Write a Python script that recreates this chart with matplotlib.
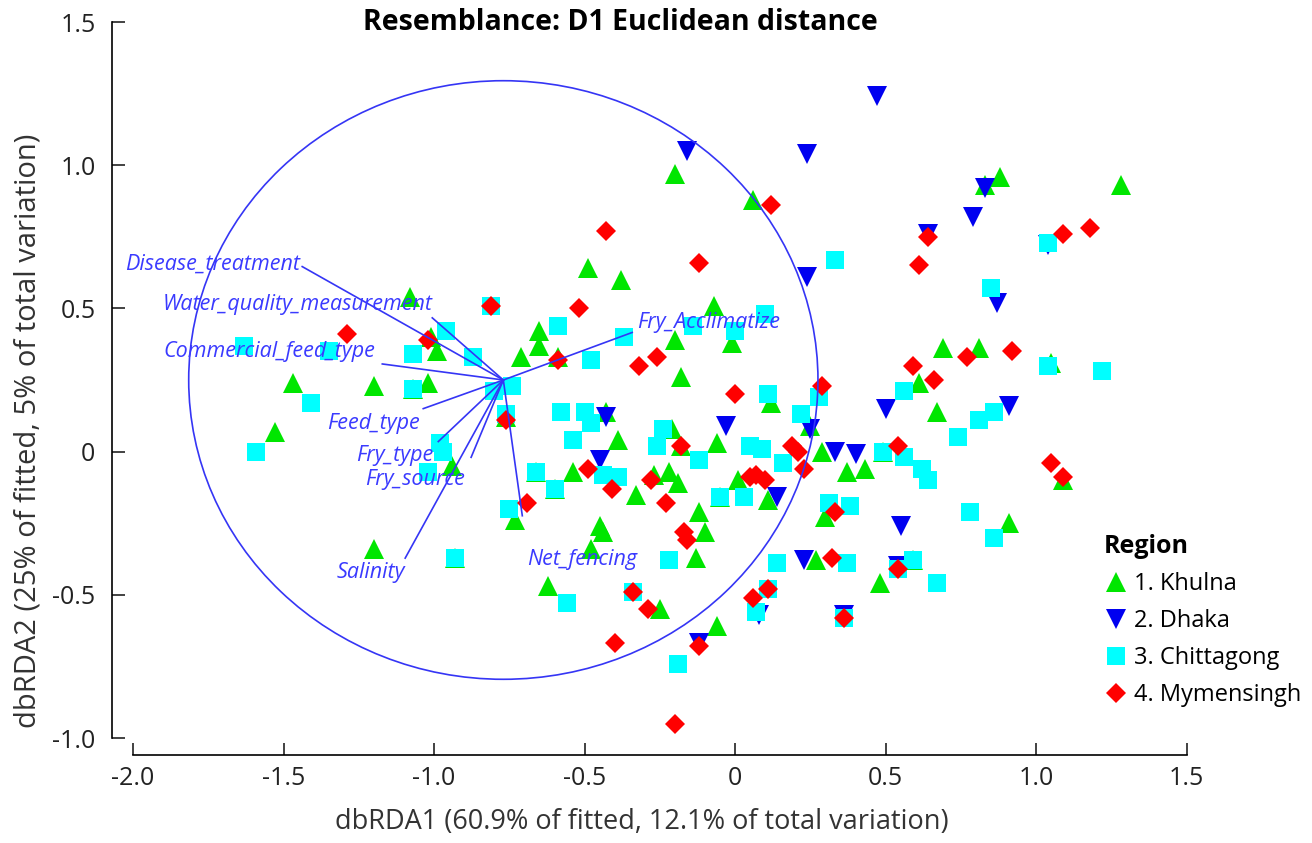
import numpy as np
import matplotlib
matplotlib.use("Agg")
import matplotlib.pyplot as plt
from matplotlib.patches import Ellipse

plt.rcParams['font.family'] = ['Open Sans', 'DejaVu Sans']
plt.rcParams['axes.unicode_minus'] = False

# dbRDA sample scores (dbRDA1, dbRDA2) per region
khulna = np.array([
    [1.28, 0.93], [0.83, 0.93], [0.88, 0.96], [-0.20, 0.97], [0.06, 0.88], [-0.49, 0.64],
    [-0.38, 0.60], [-1.08, 0.54], [-0.07, 0.51], [-0.65, 0.42], [-0.65, 0.37], [-0.20, 0.39],
    [-0.01, 0.38], [-1.01, 0.40], [-0.99, 0.35], [-1.47, 0.24], [-1.20, 0.23], [-1.07, 0.22],
    [-1.02, 0.24], [-1.53, 0.07], [-1.20, -0.34], [-0.71, 0.33], [-0.59, 0.33], [-0.18, 0.26],
    [-0.76, 0.12], [-0.43, 0.14], [-0.39, 0.04], [-0.54, -0.07], [-0.66, -0.07], [-0.60, -0.13],
    [-0.33, -0.15], [-0.73, -0.24], [-0.94, -0.05], [-0.21, 0.08], [-0.18, 0.02], [-0.06, 0.03],
    [-0.22, -0.07], [-0.27, -0.08], [-0.19, -0.11], [-0.05, -0.16], [0.01, -0.10], [-0.12, -0.21],
    [-0.45, -0.26], [-0.44, -0.28], [-0.10, -0.28], [-0.93, -0.37], [-0.48, -0.34], [-0.13, -0.37],
    [-0.62, -0.47], [-0.25, -0.55], [-0.06, -0.61], [0.27, -0.38], [0.48, -0.46], [0.59, -0.38],
    [0.69, 0.36], [0.81, 0.36], [0.61, 0.24], [0.67, 0.14], [0.12, 0.17], [0.25, 0.09],
    [0.11, -0.17], [0.29, 0.00], [0.37, -0.07], [0.43, -0.06], [0.49, 0.00], [0.30, -0.23],
    [0.91, -0.25], [1.09, -0.10], [1.05, 0.31],
])
dhaka = np.array([
    [0.47, 1.24], [-0.16, 1.05], [0.24, 1.04], [0.24, 0.61], [0.83, 0.92], [0.79, 0.82],
    [0.64, 0.76], [1.04, 0.72], [0.87, 0.52], [0.50, 0.15], [0.91, 0.16], [-0.43, 0.12],
    [-0.45, -0.03], [-0.03, 0.09], [0.25, 0.08], [0.33, 0.00], [0.40, -0.01], [0.14, -0.16],
    [0.55, -0.26], [0.23, -0.38], [0.54, -0.40], [0.36, -0.57], [-0.12, -0.67], [0.08, -0.57],
])
chittagong = np.array([
    [-1.63, 0.37], [-1.35, 0.35], [-1.07, 0.34], [-0.96, 0.42], [-0.87, 0.33], [-0.81, 0.51],
    [-0.59, 0.44], [-0.37, 0.40], [-0.14, 0.44], [0.00, 0.42], [-0.48, 0.32], [-1.41, 0.17],
    [-1.07, 0.22], [-1.59, 0.00], [-0.98, 0.03], [-0.97, 0.00], [-1.02, -0.07], [-0.74, 0.23],
    [-0.80, 0.21], [-0.58, 0.14], [-0.50, 0.14], [-0.48, 0.10], [-0.54, 0.04], [-0.44, -0.08],
    [-0.39, -0.09], [-0.66, -0.07], [-0.60, -0.13], [-0.75, -0.20], [-0.76, 0.13], [-0.24, 0.08],
    [-0.26, 0.02], [-0.12, -0.03], [0.05, 0.02], [-0.05, -0.16], [0.03, -0.16], [-0.93, -0.37],
    [-0.22, -0.38], [-0.56, -0.53], [-0.34, -0.49], [-0.19, -0.74], [0.07, -0.56], [0.11, -0.48],
    [0.14, -0.39], [0.37, -0.39], [0.36, -0.58], [0.54, -0.41], [0.59, -0.38], [0.67, -0.46],
    [0.86, -0.30], [0.33, 0.67], [0.10, 0.48], [1.04, 0.73], [0.85, 0.57], [1.04, 0.30],
    [1.22, 0.28], [0.56, 0.21], [0.86, 0.14], [0.81, 0.11], [0.74, 0.05], [0.11, 0.20],
    [0.28, 0.19], [0.22, 0.13], [0.09, 0.01], [0.16, -0.04], [0.49, 0.00], [0.56, -0.02],
    [0.62, -0.06], [0.64, -0.10], [0.31, -0.18], [0.38, -0.19], [0.78, -0.21],
])
mymensingh = np.array([
    [-1.29, 0.41], [-1.02, 0.39], [-0.81, 0.51], [-0.43, 0.77], [-0.12, 0.66], [-0.52, 0.50],
    [-0.59, 0.32], [-0.32, 0.30], [-0.26, 0.33], [0.00, 0.20], [-0.76, 0.11], [-0.49, -0.06],
    [-0.41, -0.13], [-0.69, -0.18], [-0.18, 0.02], [-0.28, -0.10], [-0.23, -0.18], [0.05, -0.09],
    [-0.17, -0.28], [-0.16, -0.31], [-0.34, -0.49], [-0.29, -0.55], [-0.40, -0.67], [-0.12, -0.68],
    [-0.20, -0.95], [0.06, -0.51], [0.11, -0.48], [0.32, -0.37], [0.36, -0.58], [0.54, -0.41],
    [0.12, 0.86], [0.64, 0.75], [0.61, 0.65], [1.09, 0.76], [1.18, 0.78], [0.77, 0.33],
    [0.92, 0.35], [0.59, 0.30], [0.66, 0.25], [0.29, 0.23], [0.19, 0.02], [0.21, 0.00],
    [0.23, -0.06], [0.07, -0.08], [0.10, -0.10], [0.54, 0.02], [1.05, -0.04], [1.09, -0.09],
    [0.33, -0.21],
])

region_labels = ['1. Khulna', '2. Dhaka', '3. Chittagong', '4. Mymensingh']

# predictor vectors (end points), all drawn from a common origin
vector_origin = (-0.77, 0.25)
vector_names = ['Disease_treatment', 'Water_quality_measurement', 'Commercial_feed_type',
                'Feed_type', 'Fry_type', 'Fry_source', 'Salinity', 'Net_fencing', 'Fry_Acclimatize']
vector_x = [-1.438, -1.006, -1.172, -1.036, -0.986, -0.877, -1.096, -0.707, -0.342]
vector_y = [0.646, 0.467, 0.306, 0.150, 0.035, -0.020, -0.372, -0.224, 0.416]
circle_radius = 1.045

x_ticks = [-2.0, -1.5, -1.0, -0.5, 0.0, 0.5, 1.0, 1.5]
x_ticklabels = ['-2.0', '-1.5', '-1.0', '-0.5', '0', '0.5', '1.0', '1.5']
y_ticks = [-1.0, -0.5, 0.0, 0.5, 1.0, 1.5]
y_ticklabels = ['-1.0', '-0.5', '0', '0.5', '1.0', '1.5']

# label placement (anchor, alignment) for each vector name
label_pos = [(-1.444, 0.656, 'right'), (-1.006, 0.513, 'right'), (-1.195, 0.349, 'right'),
             (-1.046, 0.098, 'right'), (-1.003, -0.014, 'right'), (-0.896, -0.098, 'right'),
             (-1.096, -0.422, 'right'), (-0.691, -0.377, 'left'), (-0.325, 0.450, 'left')]

VEC_COLOR = '#3535f5'
LABEL_COLOR = '#3a3aff'

fig = plt.figure(figsize=(13.12, 8.43), dpi=100)
ax = fig.add_axes([133 / 1312, 105 / 843, 1167 / 1312, 716 / 843])
ax.set_xlim(-2.0, 1.876)
ax.set_ylim(-1.0, 1.5)

styles = [
    (khulna, '^', '#00e600', 14.5),
    (dhaka, 'v', '#0000f0', 14.5),
    (chittagong, 's', '#00ffff', 12.5),
    (mymensingh, 'D', '#ff0000', 10.5),
]
handles = []
for (pts, marker, color, ms), lab in zip(styles, region_labels):
    h, = ax.plot(pts[:, 0], pts[:, 1], linestyle='none', marker=marker, ms=ms,
                 color=color, markeredgewidth=0, label=lab, zorder=2)
    handles.append(h)

# correlation circle + vectors
ax.add_patch(Ellipse(vector_origin, 2 * circle_radius, 2 * circle_radius, fill=False,
                     edgecolor=VEC_COLOR, lw=1.2, zorder=3))
for ex, ey in zip(vector_x, vector_y):
    ax.plot([vector_origin[0], ex], [vector_origin[1], ey], color=VEC_COLOR, lw=1.2, zorder=3)
for name, (lx, ly, ha) in zip(vector_names, label_pos):
    ax.text(lx, ly, name, ha=ha, va='center', fontsize=15.5, style='italic',
            color=LABEL_COLOR, zorder=4)

# PRIMER-like detached axes
for s in ['top', 'right']:
    ax.spines[s].set_visible(False)
ax.spines['left'].set_position(('outward', 15))
ax.spines['bottom'].set_position(('outward', 12))
ax.spines['left'].set_bounds(-1.0, 1.5)
ax.spines['bottom'].set_bounds(-2.0, 1.5)
ax.spines['left'].set_linewidth(1.2)
ax.spines['bottom'].set_linewidth(1.2)
ax.set_xticks(x_ticks)
ax.set_xticklabels(x_ticklabels)
ax.set_yticks(y_ticks)
ax.set_yticklabels(y_ticklabels)
ax.tick_params(direction='in', length=9, width=1.2, labelsize=18, colors='#222222')
ax.tick_params(axis='x', pad=8)
ax.tick_params(axis='y', pad=12)

fig.text(620 / 1312, 1 - 22 / 843, 'Resemblance: D1 Euclidean distance', ha='center',
         va='center', fontsize=20.5, fontweight='bold')
fig.text(642 / 1312, 1 - 822 / 843, 'dbRDA1 (60.9% of fitted, 12.1% of total variation)',
         ha='center', va='center', fontsize=19.5, color='#333333')
fig.text(28 / 1312, 1 - 431 / 843, 'dbRDA2 (25% of fitted, 5% of total variation)',
         ha='center', va='center', rotation=90, fontsize=21, color='#333333')

leg = ax.legend(handles=handles, title='Region', loc='upper left',
                bbox_to_anchor=(1104 / 1312, 1 - 534 / 843), bbox_transform=fig.transFigure,
                frameon=False, alignment='left', fontsize=17,
                title_fontproperties={'weight': 'bold', 'size': 18},
                handletextpad=0.25, labelspacing=0.55, borderpad=0, handlelength=1.0,
                borderaxespad=0)

fig.savefig('out.png', dpi=100)
